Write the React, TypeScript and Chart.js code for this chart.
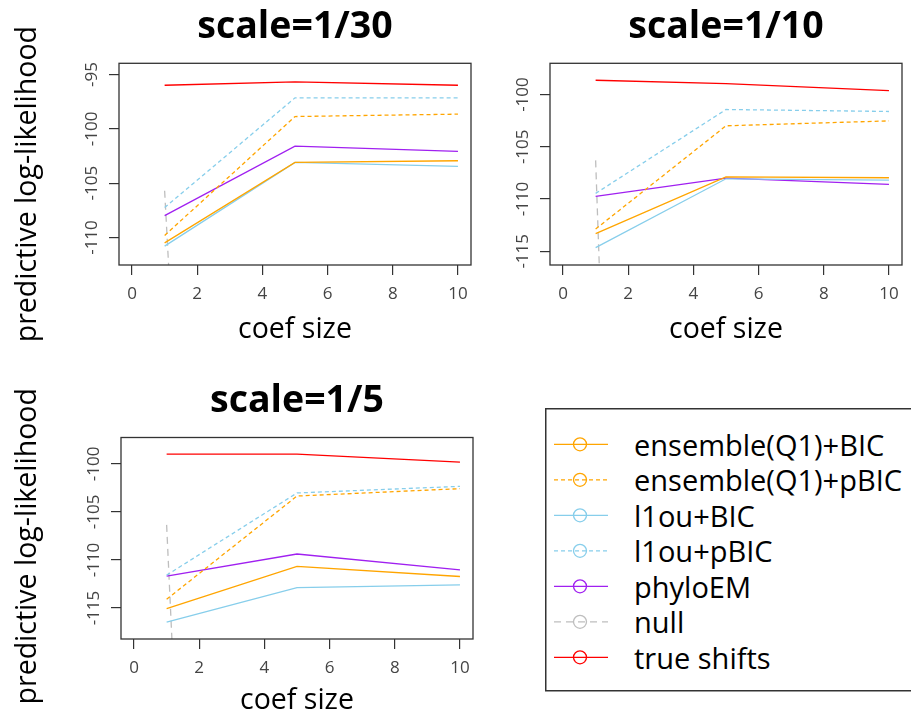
import React, { useEffect, useRef } from 'react';
import { Chart, registerables } from 'chart.js';

Chart.register(...registerables);
const FAMILY = "'Open Sans', 'Noto Sans', sans-serif";
Chart.defaults.font.family = FAMILY;

// ---------- data ----------
const coefSizes = [1, 5, 10];
const xTickValues = [0, 2, 4, 6, 8, 10];

const seriesNames = [
  'ensemble(Q1)+BIC',
  'ensemble(Q1)+pBIC',
  'l1ou+BIC',
  'l1ou+pBIC',
  'phyloEM',
  'null',
  'true shifts',
];
const seriesColors = ['#FFA500', '#FFA500', '#87CEEB', '#87CEEB', '#A020F0', '#BEBEBE', '#FF0000'];
const seriesDashes: number[][] = [[], [4, 3], [], [4, 3], [], [7, 5], []];

const panelTitles = ['scale=1/30', 'scale=1/10', 'scale=1/5'];
const xAxisLabel = 'coef size';
const yAxisLabel = 'predictive log-likelihood';

// scale = 1/30
const ensBic30 = [-110.49, -103.08, -102.93];
const ensPbic30 = [-109.81, -98.86, -98.64];
const l1ouBic30 = [-110.79, -103.08, -103.45];
const l1ouPbic30 = [-107.24, -97.14, -97.14];
const phyloEM30 = [-107.98, -101.58, -102.07];
const null30 = [-105.7, -330, -330];
const trueShifts30 = [-95.98, -95.67, -95.98];

// scale = 1/10
const ensBic10 = [-113.31, -107.87, -107.96];
const ensPbic10 = [-112.87, -102.99, -102.52];
const l1ouBic10 = [-114.65, -108.06, -108.18];
const l1ouPbic10 = [-109.46, -101.43, -101.62];
const phyloEM10 = [-109.75, -107.99, -108.6];
const null10 = [-106.3, -465, -465];
const trueShifts10 = [-98.63, -98.95, -99.62];

// scale = 1/5
const ensBic5 = [-115.07, -110.67, -111.72];
const ensPbic5 = [-114.09, -103.35, -102.58];
const l1ouBic5 = [-116.46, -112.87, -112.59];
const l1ouPbic5 = [-111.58, -103.03, -102.34];
const phyloEM5 = [-111.68, -109.38, -111.02];
const null5 = [-106.35, -400, -400];
const trueShifts5 = [-98.99, -98.99, -99.83];

const yTicks30 = [-95, -100, -105, -110];
const yTicks10 = [-100, -105, -110, -115];
const yTicks5 = [-100, -105, -110, -115];

const yRange30 = [-112.53, -93.96];
const yRange10 = [-116.31, -97.01];
const yRange5 = [-118.22, -97.26];

// ---------- chart helpers ----------
const boxPlugin = {
  id: 'plotBox',
  afterDraw(chart: any) {
    const { ctx, chartArea } = chart;
    ctx.save();
    ctx.strokeStyle = '#333';
    ctx.lineWidth = 1.3;
    ctx.strokeRect(chartArea.left, chartArea.top, chartArea.right - chartArea.left, chartArea.bottom - chartArea.top);
    ctx.restore();
  },
};

// y-axis label (rotated), placed relative to the chart area like R's ylab
const sideLabelPlugin = {
  id: 'sideLabel',
  afterDraw(chart: any, _args: any, opts: any) {
    if (!opts || !opts.text) return;
    const { ctx, chartArea } = chart;
    ctx.save();
    ctx.translate(opts.x, (chartArea.top + chartArea.bottom) / 2 + opts.yShift);
    ctx.rotate(-Math.PI / 2);
    ctx.font = `${opts.size}px ${FAMILY}`;
    ctx.fillStyle = '#000';
    ctx.textAlign = 'center';
    ctx.textBaseline = 'middle';
    ctx.fillText(opts.text, 0, 0);
    ctx.restore();
  },
};

type PanelProps = {
  title: string;
  values: number[][];
  yRange: number[];
  yTicks: number[];
  showYTitle: boolean;
  yTitleShift: number;
  left: number;
  top: number;
  width: number;
  height: number;
  yAxisWidth: number;
  xAxisHeight: number;
  titlePadTop: number;
  titlePadBottom: number;
  xTitlePadBottom: number;
};

function Panel(p: PanelProps) {
  const ref = useRef<HTMLCanvasElement>(null);
  useEffect(() => {
    const chart = new Chart(ref.current as HTMLCanvasElement, {
      type: 'line',
      data: {
        datasets: seriesNames.map((name, i) => ({
          label: name,
          data: coefSizes.map((x, j) => ({ x, y: p.values[i][j] })),
          borderColor: seriesColors[i],
          backgroundColor: seriesColors[i],
          borderDash: seriesDashes[i],
          borderWidth: 1.3,
          pointRadius: 0,
          fill: false,
          tension: 0,
        })),
      },
      options: {
        responsive: false,
        animation: false,
        events: [],
        layout: { padding: { left: 0, right: 9, top: 0, bottom: 0 } },
        plugins: {
          legend: { display: false },
          tooltip: { enabled: false },
          title: {
            display: true,
            text: p.title,
            fullSize: false,
            color: '#000',
            font: { size: 37.5, weight: 'bold' },
            padding: { top: p.titlePadTop, bottom: p.titlePadBottom },
          },
          sideLabel: p.showYTitle ? { text: yAxisLabel, x: 28, yShift: p.yTitleShift, size: 28.5 } : {},
        },
        scales: {
          x: {
            type: 'linear',
            min: -0.4,
            max: 10.4,
            afterBuildTicks: (s: any) => {
              s.ticks = xTickValues.map((v) => ({ value: v }));
            },
            afterFit: (s: any) => {
              s.height = p.xAxisHeight;
            },
            grid: { drawOnChartArea: false, drawTicks: true, tickLength: 10, color: '#333', lineWidth: 1.2 },
            border: { display: false },
            ticks: { font: { size: 17 }, color: '#444', padding: 9, autoSkip: false, maxRotation: 0, minRotation: 0 },
            title: {
              display: true,
              text: xAxisLabel,
              color: '#000',
              font: { size: 28.5 },
              padding: { top: 0, bottom: p.xTitlePadBottom },
            },
          },
          y: {
            type: 'linear',
            min: p.yRange[0],
            max: p.yRange[1],
            afterBuildTicks: (s: any) => {
              s.ticks = p.yTicks.map((v) => ({ value: v }));
            },
            afterFit: (s: any) => {
              s.width = p.yAxisWidth;
            },
            grid: { drawOnChartArea: false, drawTicks: true, tickLength: 10, color: '#333', lineWidth: 1.2 },
            border: { display: false },
            ticks: {
              font: { size: 17 },
              color: '#444',
              padding: 0,
              minRotation: 90,
              maxRotation: 90,
              crossAlign: 'center',
              autoSkip: false,
            },
            title: { display: false },
          },
        },
      } as any,
      plugins: [boxPlugin, sideLabelPlugin],
    });
    return () => chart.destroy();
  }, []);
  return (
    <canvas
      ref={ref}
      width={p.width}
      height={p.height}
      style={{ position: 'absolute', left: p.left, top: p.top, width: p.width, height: p.height }}
    />
  );
}

function Legend() {
  const rowY = (i: number) => 36.3 + i * 35.5;
  return (
    <svg width={366} height={285} style={{ position: 'absolute', left: 545, top: 408 }}>
      <rect x={0.75} y={0.75} width={420} height={282} fill="white" stroke="#333" strokeWidth={1.5} />
      {seriesNames.map((n, i) => (
        <g key={n}>
          <line
            x1={9}
            x2={63}
            y1={rowY(i)}
            y2={rowY(i)}
            stroke={seriesColors[i]}
            strokeWidth={1.3}
            strokeDasharray={seriesDashes[i].length ? seriesDashes[i].join(' ') : undefined}
          />
          <circle cx={35} cy={rowY(i)} r={6.5} fill="none" stroke={seriesColors[i]} strokeWidth={1.3} />
          <text x={89} y={rowY(i)} dominantBaseline="central" fontSize={29} fontFamily={FAMILY} fill="#000">
            {n}
          </text>
        </g>
      ))}
    </svg>
  );
}

export default function App() {
  const v30 = [ensBic30, ensPbic30, l1ouBic30, l1ouPbic30, phyloEM30, null30, trueShifts30];
  const v10 = [ensBic10, ensPbic10, l1ouBic10, l1ouPbic10, phyloEM10, null10, trueShifts10];
  const v5 = [ensBic5, ensPbic5, l1ouBic5, l1ouPbic5, phyloEM5, null5, trueShifts5];
  return (
    <div style={{ position: 'absolute', left: 0, top: 0, width: 911, height: 719, overflow: 'hidden', background: '#fff' }}>
      <Panel
        title={panelTitles[0]}
        values={v30}
        yRange={yRange30}
        yTicks={yTicks30}
        showYTitle={true}
        yTitleShift={20}
        left={0}
        top={0}
        width={480}
        height={355}
        yAxisWidth={119}
        xAxisHeight={90}
        titlePadTop={5}
        titlePadBottom={13.3}
        xTitlePadBottom={8}
      />
      <Panel
        title={panelTitles[1]}
        values={v10}
        yRange={yRange10}
        yTicks={yTicks10}
        showYTitle={false}
        yTitleShift={0}
        left={490}
        top={0}
        width={421}
        height={355}
        yAxisWidth={60}
        xAxisHeight={90}
        titlePadTop={5}
        titlePadBottom={13.3}
        xTitlePadBottom={8}
      />
      <Panel
        title={panelTitles[2]}
        values={v5}
        yRange={yRange5}
        yTicks={yTicks5}
        showYTitle={true}
        yTitleShift={8}
        left={0}
        top={360}
        width={482}
        height={359}
        yAxisWidth={121}
        xAxisHeight={80}
        titlePadTop={19.3}
        titlePadBottom={13.2}
        xTitlePadBottom={1}
      />
      <Legend />
    </div>
  );
}
